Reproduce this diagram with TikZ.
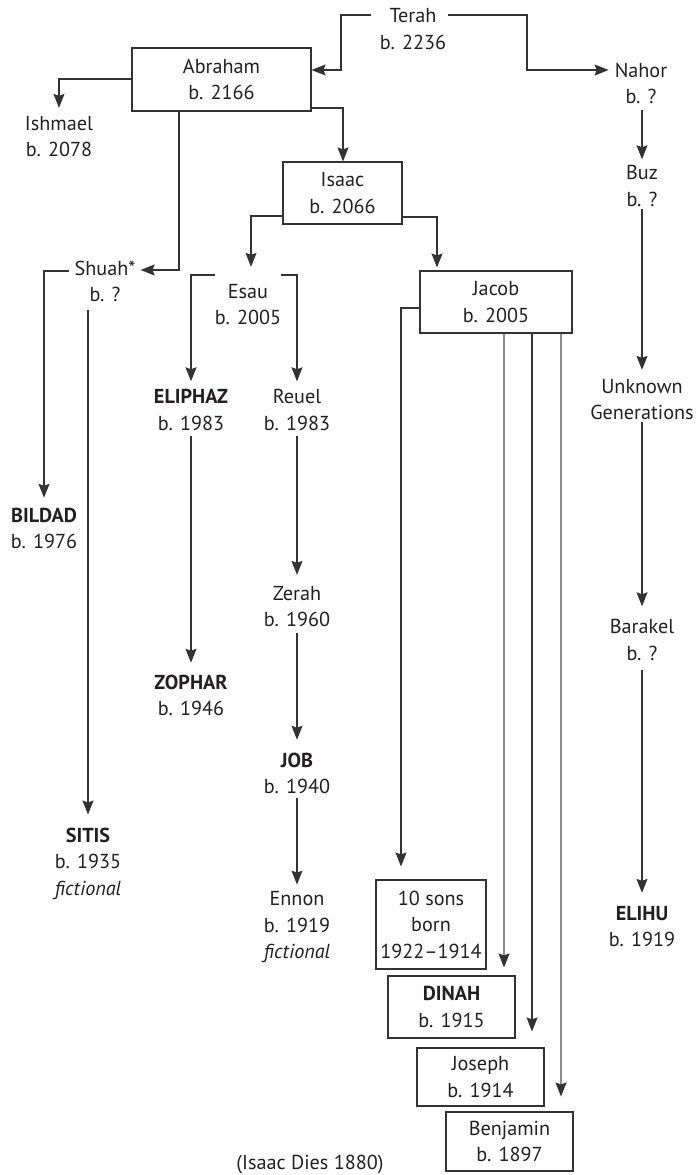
\documentclass[tikz,border=0pt]{standalone}
\usepackage{fontspec}
\setmainfont{PT Sans}
\usetikzlibrary{arrows.meta,calc}
\definecolor{ln}{HTML}{333333}
\definecolor{lg}{HTML}{8C8C8C}
\definecolor{tx}{HTML}{231F20}
\begin{document}
\begin{tikzpicture}[x=1pt,y=-1pt,
  lbl/.style={align=center, inner sep=0pt, text=tx, font=\fontsize{20.2}{26.5}\selectfont},
  bx/.style n args={2}{lbl, draw=ln, line width=1.1pt, minimum width=#1, minimum height=#2},
  conn/.style={draw=ln, line width=1.1pt},
  arr/.style={conn, -{Stealth[length=14pt,width=11pt,inset=2pt,color=ln]}},
  garr/.style={arr, draw=lg}
]
\useasboundingbox (0,0) rectangle (696,1175);
% nodes
\node[lbl] (terah) at (413,29) {Terah\\b. 2236};
\node[bx={179}{63}] (abraham) at (221.5,79.5) {Abraham\\b. 2166};
\node[lbl] (ishmael) at (59,136.5) {Ishmael\\b. 2078};
\node[lbl] (nahor) at (641,83.5) {Nahor\\b. ?};
\node[bx={119}{62}] (isaac) at (342.5,193) {Isaac\\b. 2066};
\node[lbl] (buz) at (642,186) {Buz\\b. ?};
\node[lbl] (shuah) at (105,281.5) {Shuah*\\b. ?};
\node[lbl] (esau) at (248,304.5) {Esau\\b. 2005};
\node[bx={152}{62}] (jacob) at (496,302) {Jacob\\b. 2005};
\node[lbl] (unknown) at (642,399.5) {Unknown\\Generations};
\node[lbl] (bildad) at (44,528.5) {\textbf{BILDAD}\\b. 1976};
\node[lbl] (eliphaz) at (191,410) {\textbf{ELIPHAZ}\\b. 1983};
\node[lbl] (reuel) at (297,410) {Reuel\\b. 1983};
\node[lbl] (zerah) at (297,606.5) {Zerah\\b. 1960};
\node[lbl] (barakel) at (642,640) {Barakel\\b. ?};
\node[lbl] (zophar) at (191,695.5) {\textbf{ZOPHAR}\\b. 1946};
\node[lbl] (job) at (297,773.5) {\textbf{JOB}\\b. 1940};
\node[lbl] (sitis) at (88,863.5) {\textbf{SITIS}\\b. 1935\\\textit{fictional}};
\node[lbl] (ennon) at (297,927.5) {Ennon\\b. 1919\\\textit{fictional}};
\node[lbl] (elihu) at (642,926.5) {\textbf{ELIHU}\\b. 1919};
\node[bx={110}{89}] (tensons) at (431,924.5) {10 sons\\born\\1922--1914};
\node[bx={127}{62}] (dinah) at (451.5,1007) {\textbf{DINAH}\\b. 1915};
\node[bx={127}{58}] (joseph) at (480.5,1077) {Joseph\\b. 1914};
\node[bx={127}{59}] (benjamin) at (509.5,1141.5) {Benjamin\\b. 1897};
\node[lbl] (dies) at (310,1165) {(Isaac Dies 1880)};
% connectors
\draw[arr, shorten <=9pt] (terah.west |- 0,15) -| (341,70) -- (abraham.east |- 0,70);
\draw[arr, shorten <=2pt, shorten >=6pt] (terah.east |- 0,15) -| (527,70) -- (nahor.west |- 0,70);
\draw[arr, shorten >=8pt] (abraham.west |- 0,79) -| (ishmael.north);
\draw[arr, shorten >=5pt] (abraham.south -| 179,0) |- (shuah.east |- 0,270);
\draw[arr] (abraham.east |- 0,108) -| (isaac.north -| 343,0);
\draw[arr, shorten >=17pt] (isaac.west |- 0,216) -| (esau.north -| 251,0);
\draw[arr, shorten >=3pt] (isaac.east |- 0,217) -| (jacob.north -| 437,0);
\draw[arr, shorten <=5pt, shorten >=10pt] (shuah.west |- 0,271) -| (bildad.north);
\draw[arr, shorten <=8pt, shorten >=13pt] (shuah.south -| 88,0) -- (sitis.north);
\draw[arr, shorten >=8pt] (esau.west |- 0,275) -| (eliphaz.north);
\draw[arr, shorten >=8pt] (esau.east |- 0,275) -| (reuel.north);
\draw[arr, shorten <=5pt, shorten >=12pt] (eliphaz.south) -- (zophar.north);
\draw[arr, shorten <=5pt, shorten >=11pt] (reuel.south) -- (zerah.north);
\draw[arr, shorten <=6pt, shorten >=13pt] (zerah.south) -- (job.north);
\draw[arr, shorten <=4pt, shorten >=7pt] (job.south) -- (ennon.north);
\draw[arr, shorten >=13pt] (jacob.west |- 0,308) -| (tensons.north -| 401,0);
\draw[garr, shorten >=8pt] (jacob.south -| 504,0) -- (dinah.north -| 504,0);
\draw[arr, shorten >=16pt] (jacob.south -| 532,0) -- (joseph.north -| 532,0);
\draw[garr, shorten >=15pt] (jacob.south -| 561,0) -- (benjamin.north -| 561,0);
\draw[arr, shorten <=6pt, shorten >=6pt] (nahor.south -| 642,0) -- (buz.north);
\draw[arr, shorten <=2pt, shorten >=9pt] (buz.south) -- (unknown.north);
\draw[arr, shorten <=2pt, shorten >=13pt] (unknown.south) -- (barakel.north);
\draw[arr, shorten <=9pt, shorten >=13pt] (barakel.south) -- (elihu.north);
\end{tikzpicture}
\end{document}
